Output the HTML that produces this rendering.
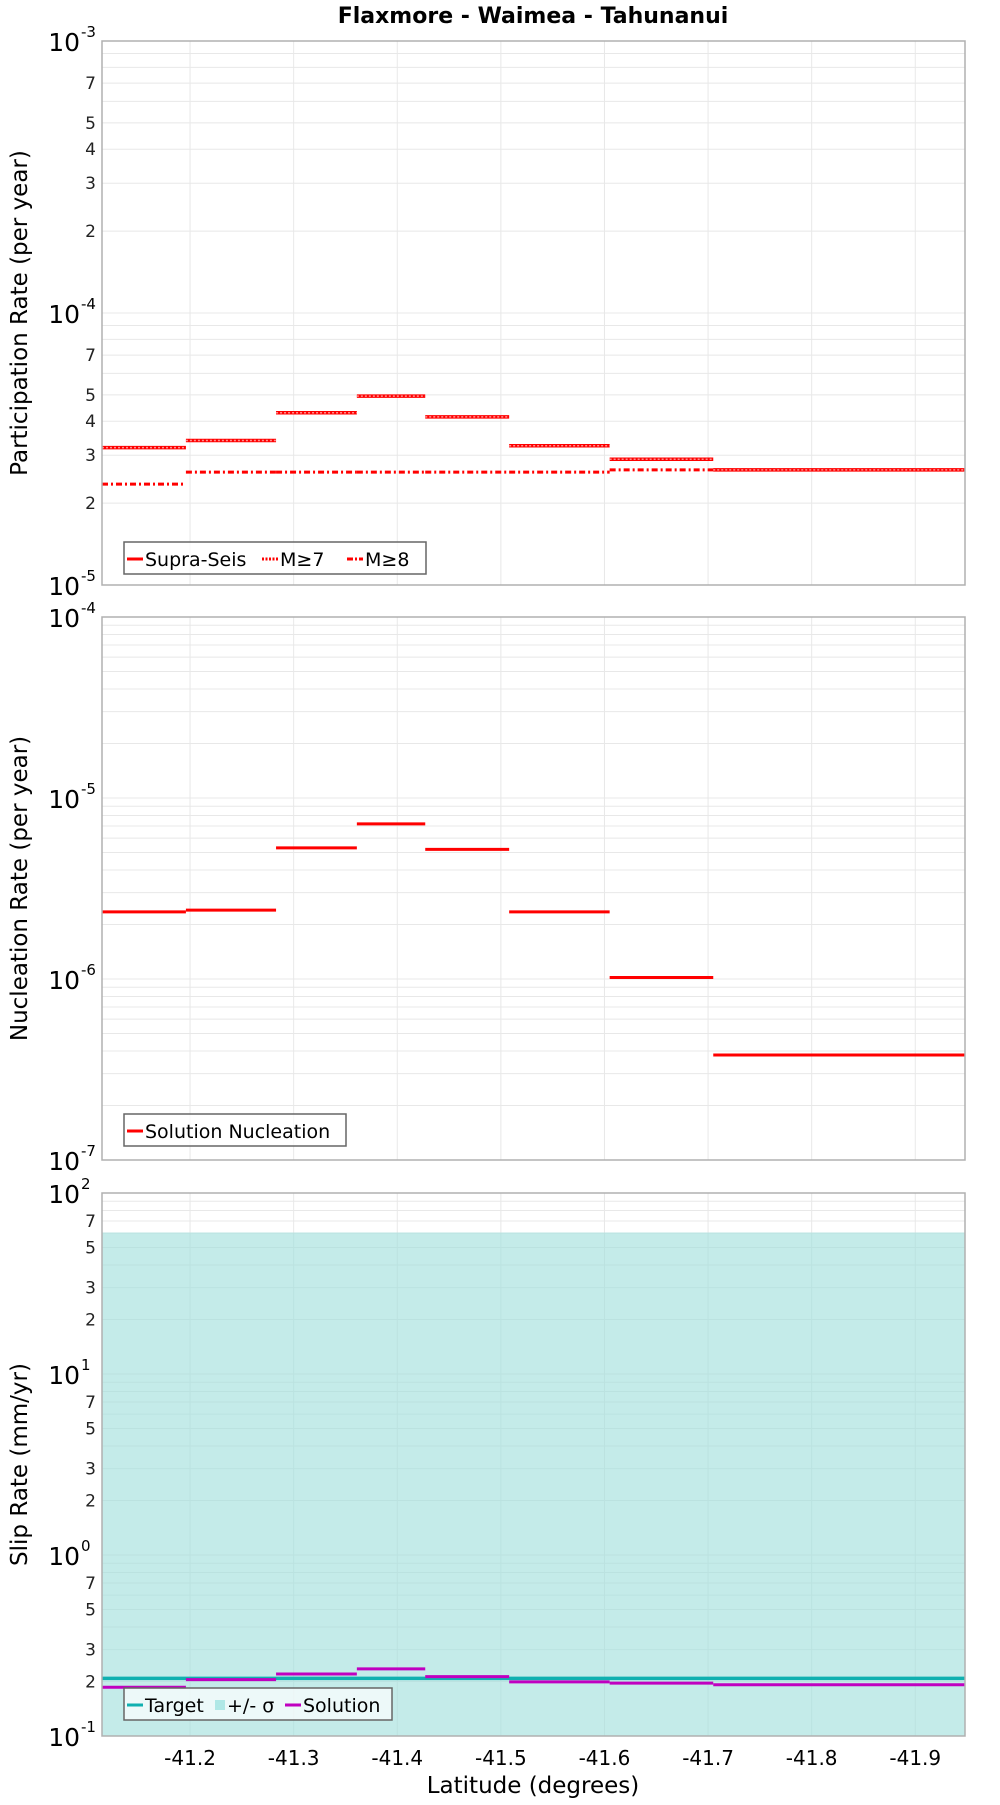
<!DOCTYPE html>
<html><head><meta charset="utf-8"><style>
body{margin:0;background:#fff;width:1000px;height:1800px;overflow:hidden;font-family:"Liberation Sans","DejaVu Sans",sans-serif}
svg text{font-family:"DejaVu Sans","Liberation Sans",sans-serif}
</style></head><body>
<svg id="chart" width="1000" height="1800" xmlns="http://www.w3.org/2000/svg">
<text x="533" y="23" text-anchor="middle" font-size="22" font-weight="bold">Flaxmore - Waimea - Tahunanui</text>
<text x="533" y="1793" text-anchor="middle" font-size="23">Latitude (degrees)</text>
</svg>
<script>
const binEdges=[41.115,41.196,41.283,41.361,41.427,41.508,41.605,41.705,41.948];
const xTicks=[41.2,41.3,41.4,41.5,41.6,41.7,41.8,41.9];
const xTickLabels=["-41.2","-41.3","-41.4","-41.5","-41.6","-41.7","-41.8","-41.9"];
const supraSeis=[3.2e-5,3.4e-5,4.3e-5,4.95e-5,4.15e-5,3.25e-5,2.9e-5,2.65e-5];
const m7=[3.2e-5,3.4e-5,4.3e-5,4.95e-5,4.15e-5,3.25e-5,2.9e-5,2.65e-5];
const m8=[2.35e-5,2.6e-5,2.6e-5,2.6e-5,2.6e-5,2.6e-5,2.65e-5,2.65e-5];
const nucleation=[2.35e-6,2.4e-6,5.3e-6,7.2e-6,5.2e-6,2.35e-6,1.02e-6,3.8e-7];
const slipTarget=[0.208];
const sigmaBand=[0.05,60.5];
const slipSolution=[0.186,0.205,0.22,0.235,0.213,0.199,0.196,0.192];

const svg=document.getElementById('chart');
const NS='http://www.w3.org/2000/svg';
const L=102,R=965;
const xMin=binEdges[0],xMax=binEdges[binEdges.length-1];
function xs(v){return L+(v-xMin)/(xMax-xMin)*(R-L);}
function mk(tag,attrs,parent){const e=document.createElementNS(NS,tag);for(const k in attrs)e.setAttribute(k,attrs[k]);(parent||svg).appendChild(e);return e;}

function panel(top,bot,lo,hi,title,name,minorLabels){
  const g=mk('g',{});
  
  
  const ys=v=>bot-(Math.log10(v)-lo)/(hi-lo)*(bot-top);
  const bg=mk('rect',{x:L,y:top,width:R-L,height:bot-top,fill:'#fff'},g);
  
  
  const grid=mk('g',{stroke:'#e8e8e8','stroke-width':1},g);
  
  
  for(let d=lo;d<hi;d++){for(let m=1;m<10;m++){const y=ys(m*Math.pow(10,d));mk('line',{x1:L,x2:R,y1:y,y2:y},grid);}}
  xTicks.forEach(t=>{const x=xs(t);mk('line',{x1:x,x2:x,y1:top,y2:bot},grid);});
  for(let d=lo;d<=hi;d++){
    const y=ys(Math.pow(10,d));
    const t=mk('text',{x:L-22,y:y+10,'text-anchor':'end','font-size':25},g);
    
    
    t.textContent='10';
    const s=mk('text',{x:L-21,y:y-4,'font-size':15},g);
    
    
    s.textContent=String(d);
    if(d<hi){minorLabels.forEach(m=>{const yy=ys(m*Math.pow(10,d));
      const tt=mk('text',{x:L-6,y:yy+6,'text-anchor':'end','font-size':17,fill:'#222'},g);
      
      
      tt.textContent=String(m);});}
  }
  const yt=mk('text',{x:0,y:0,'text-anchor':'middle','font-size':23,transform:`translate(27,${(top+bot)/2}) rotate(-90)`},g);
  
  
  yt.textContent=title;
  return {g,ys,top,bot};
}
function frame(p){const f=mk('rect',{x:L,y:p.top,width:R-L,height:p.bot-p.top,fill:'none',stroke:'#b0b0b0','stroke-width':1.5},p.g);
  }
function steps(p,vals,color,w,dash,name){
  vals.forEach((v,i)=>{const y=p.ys(v);const a={x1:xs(binEdges[i]),x2:xs(binEdges[i+1]),y1:y,y2:y,stroke:color,'stroke-width':w};if(dash)a['stroke-dasharray']=dash;
    const l=mk('line',a,p.g);});
}
function legend(p,x,y,w,items){
  const lg=mk('g',{},p.g);
  
  
  mk('rect',{x:x,y:y,width:w,height:32,fill:'rgba(255,255,255,0.7)',stroke:'#666','stroke-width':1.5},lg);
  items.forEach(it=>{
    const e=mk('g',{},lg);
    
    
    if(it.box)mk('rect',{x:it.x,y:y+12,width:10,height:10,fill:it.color},e);
    else{const a={x1:it.x,x2:it.x+16,y1:y+17,y2:y+17,stroke:it.color,'stroke-width':3};if(it.dash)a['stroke-dasharray']=it.dash;mk('line',a,e);}
    const t=mk('text',{x:it.x+(it.box?12:18),y:y+24,'font-size':19},e);t.textContent=it.label;
  });
}

const p1=panel(41,585,-5,-3,'Participation Rate (per year)','participation-panel',[2,3,4,5,7]);
steps(p1,m8,'#f00',3,'6,3,2,3','m8-step');
steps(p1,supraSeis,'#f00',3.5,null,'supra-seis-step');
steps(p1,m7,'#ff9090',1.5,'2,2','m7-step');
frame(p1);
legend(p1,124,542,302,[{x:127,color:'#f00',label:'Supra-Seis'},{x:262,color:'#f00',dash:'2,1.5',label:'M≥7'},{x:347,color:'#f00',dash:'6,2,2,2',label:'M≥8'}]);

const p2=panel(617,1160,-7,-4,'Nucleation Rate (per year)','nucleation-panel',[]);
steps(p2,nucleation,'#f00',3,null,'nucleation-step');
frame(p2);
legend(p2,124,1114,222,[{x:127,color:'#f00',label:'Solution Nucleation'}]);

const p3=panel(1193,1736,-1,2,'Slip Rate (mm/yr)','slip-panel',[2,3,5,7]);
const bandTop=p3.ys(sigmaBand[1]);
const band=mk('rect',{x:L,y:bandTop,width:R-L,height:p3.bot-bandTop,fill:'#9fdfdc','fill-opacity':0.62},p3.g);


const ty=p3.ys(slipTarget[0]);
const tl=mk('line',{x1:L,x2:R,y1:ty,y2:ty,stroke:'#10b0b0','stroke-width':3.5},p3.g);


steps(p3,slipSolution,'#c000c0',3,null,'solution-step');
frame(p3);
legend(p3,124,1688,268,[{x:127,color:'#10b0b0',label:'Target'},{x:215,color:'#b0e8e6',box:true,label:'+/- σ'},{x:285,color:'#c000c0',label:'Solution'}]);

xTicks.forEach((t,i)=>{const tx=mk('text',{x:xs(t),y:1765,'text-anchor':'middle','font-size':20});
  tx.textContent=xTickLabels[i];});
</script>
</body></html>
